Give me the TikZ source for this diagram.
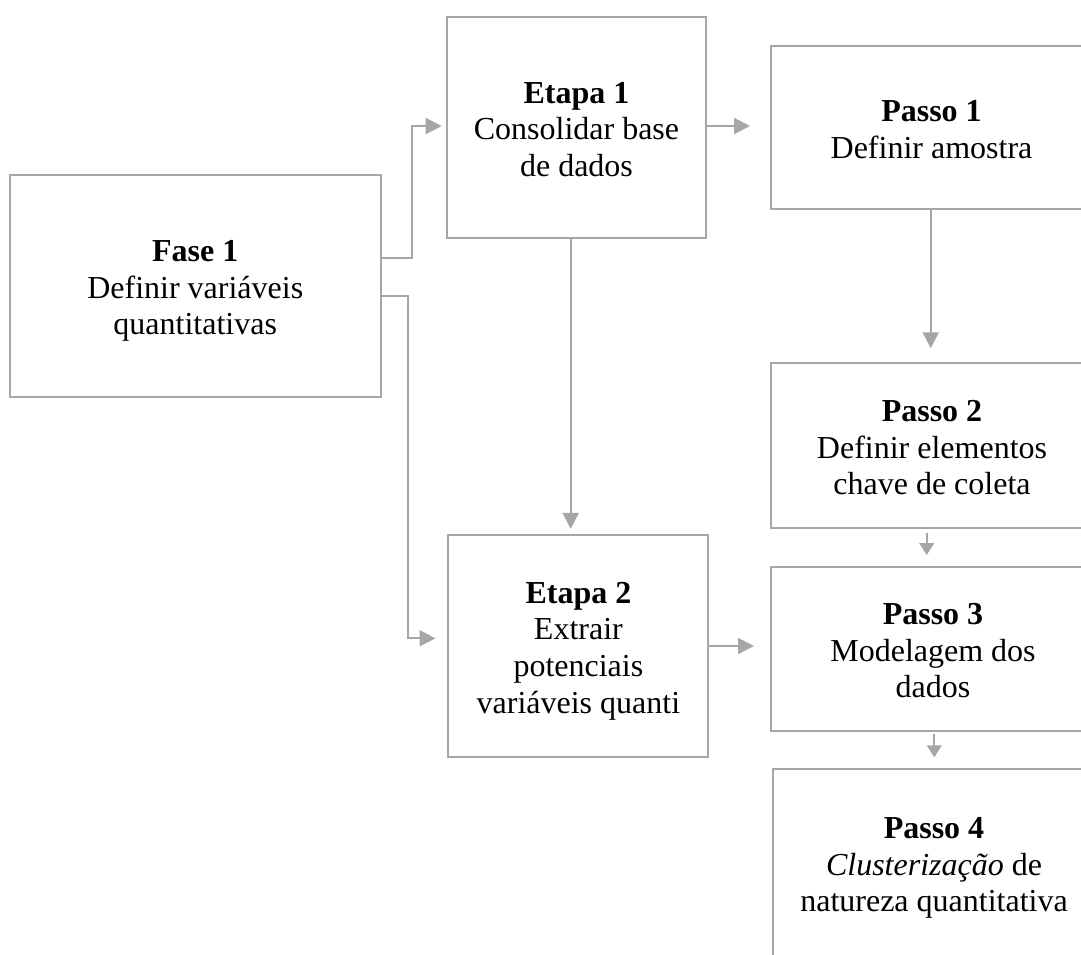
\documentclass[tikz,border=0pt]{standalone}
\usepackage{fontspec}
\setmainfont{Liberation Serif}
\usetikzlibrary{arrows.meta}
\definecolor{edge}{RGB}{166,166,166}
% invisible struts: the top one carries some extra leading above the first line
\newcommand\topst{\rule[-5.2pt]{0pt}{29pt}}
\newcommand\botst{\rule[-5.2pt]{0pt}{26.6pt}}
% box text: bold title line followed by the description lines
\newcommand\boxtext[2]{\topst\textbf{#1}\\#2\botst}
\begin{document}
\begin{tikzpicture}[x=0.75pt,y=-0.75pt,
  box/.style 2 args={draw=edge, line width=1.5pt, minimum width=#1*0.75pt,
    minimum height=#2*0.75pt, inner sep=0pt, align=center,
    font=\fontsize{24pt}{27.4pt}\selectfont},
  conn/.style={draw=edge, line width=1.5pt,
    -{Triangle[length=12pt,width=12pt]}},
  connsmall/.style={draw=edge, line width=1.5pt,
    -{Triangle[length=9pt,width=11pt]}}]
\useasboundingbox (0,0) rectangle (1081,954);
\clip (0,0) rectangle (1081,954);

% boxes
\node[box={370.5}{222}] (f1) at (195.25,286)
  {\boxtext{Fase 1}{Definir variáveis\\quantitativas}};
\node[box={259}{221}] (e1) at (576.5,127.2)
  {\boxtext{Etapa 1}{Consolidar base\\de dados}};
\node[box={260}{221.7}] (e2) at (578.4,645.8)
  {\boxtext{Etapa 2}{Extrair\\potenciais\\variáveis quanti}};
\node[box={321}{163.3}] (p1) at (931.5,127.7)
  {\boxtext{Passo 1}{Definir amostra}};
\node[box={322}{165}] (p2) at (932,445.8)
  {\boxtext{Passo 2}{Definir elementos\\chave de coleta}};
\node[box={324}{164}] (p3) at (933,648.7)
  {\boxtext{Passo 3}{Modelagem dos\\dados}};
\node[box={321.5}{186.7}] (p4) at (934,862.6)
  {\boxtext{Passo 4}{\textit{Clusterização} de\\natureza quantitativa}};

% connectors
\draw[conn, shorten >=3.2pt] ([yshift=21.2pt]f1.east) -| (411.7,126) -- (e1.west |- 0,126);
\draw[conn, shorten >=8.9pt] ([yshift=-7.3pt]f1.east) -| (408.3,638.3) -- (e2.west |- 0,638.3);
\draw[conn, shorten >=15pt] (e1.east |- 0,126) -- (p1.west |- 0,126);
\draw[conn, shorten >=3.75pt] (e1.south -| 570.7,0) -- (e2.north -| 570.7,0);
\draw[conn, shorten >=12pt] (e2.east |- 0,646) -- (p3.west |- 0,646);
\draw[conn, shorten >=10.5pt] (p1.south -| 930.7,0) -- (p2.north -| 930.7,0);
\draw[connsmall, shorten <=2.5pt, shorten >=8pt] (p2.south -| 926.7,0) -- (p3.north -| 926.7,0);
\draw[connsmall, shorten <=1.7pt, shorten >=8.2pt] (p3.south -| 934.3,0) -- (p4.north -| 934.3,0);
\end{tikzpicture}
\end{document}
